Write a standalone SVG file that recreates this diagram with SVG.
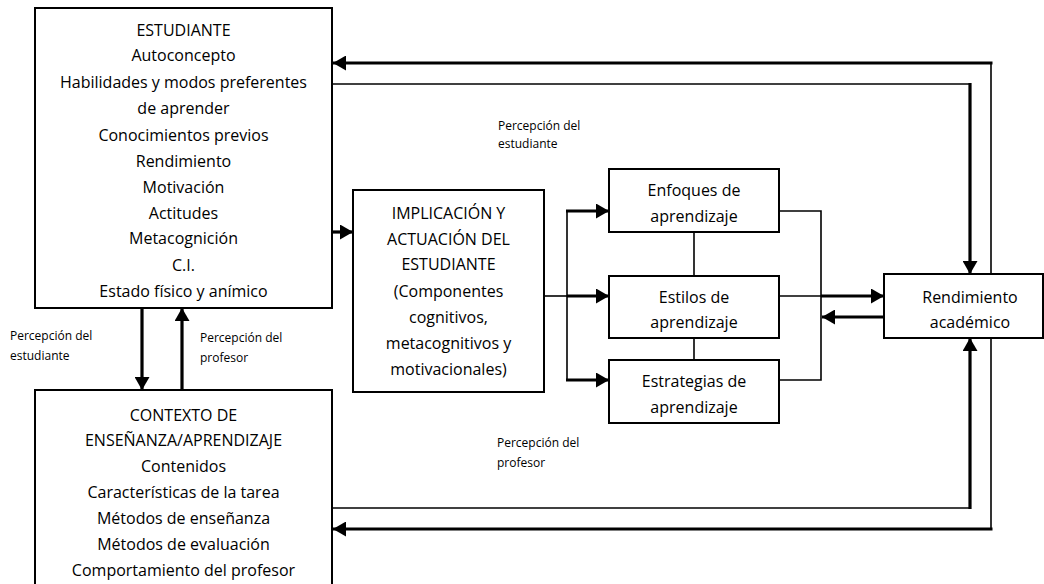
<svg xmlns="http://www.w3.org/2000/svg" width="1044" height="584" viewBox="0 0 1044 584">
<defs>
<marker id="ah" markerUnits="userSpaceOnUse" markerWidth="14" markerHeight="15" refX="13" refY="7.5" orient="auto">
<path d="M0,0 L13,7.5 L0,15 z" fill="#000"/>
</marker>
<style>
.box{fill:#fff;stroke:#000;stroke-width:2}
.t{font-family:"Open Sans","Noto Sans",sans-serif;font-size:16px;fill:#000;text-anchor:middle;dominant-baseline:central}
.s{font-family:"Open Sans","Noto Sans",sans-serif;font-size:12px;fill:#000;dominant-baseline:central}
.thin{fill:none;stroke:#000;stroke-width:1.6}
.thick{fill:none;stroke:#000;stroke-width:3.2}
.arr{marker-end:url(#ah)}
</style>
</defs>
<rect width="1044" height="584" fill="#fff"/>
<g id="connectors">
<line class="thin" x1="991" y1="274" x2="991" y2="63"/>
<line class="thick arr" x1="992.5" y1="63" x2="333" y2="63"/>
<line class="thin" x1="332" y1="84" x2="971" y2="84"/>
<line class="thick arr" x1="970" y1="83" x2="970" y2="274"/>
<line class="thin" x1="332" y1="508" x2="971" y2="508"/>
<line class="thick arr" x1="970" y1="509" x2="970" y2="338"/>
<line class="thin" x1="991" y1="338" x2="991" y2="529"/>
<line class="thick arr" x1="992.5" y1="529" x2="333" y2="529"/>
<line class="thick arr" x1="142" y1="308" x2="142" y2="390"/>
<line class="thick arr" x1="182" y1="390" x2="182" y2="308"/>
<line class="thick arr" x1="332" y1="232" x2="353" y2="232"/>
<line class="thin" x1="544" y1="296" x2="567" y2="296"/>
<line class="thin" x1="567" y1="211" x2="567" y2="380"/>
<line class="thick arr" x1="566" y1="211" x2="609" y2="211"/>
<line class="thick arr" x1="567" y1="296" x2="609" y2="296"/>
<line class="thick arr" x1="566" y1="380" x2="609" y2="380"/>
<line class="thin" x1="694" y1="232" x2="694" y2="276"/>
<line class="thin" x1="694" y1="338" x2="694" y2="360"/>
<polyline class="thin" points="779,211 821,211 821,380 779,380"/>
<line class="thin" x1="779" y1="296" x2="822" y2="296"/>
<line class="thick arr" x1="821" y1="296" x2="884" y2="296"/>
<line class="thick arr" x1="884" y1="317" x2="822" y2="317"/>
<text class="s" x="10" y="335">Percepción del</text>
<text class="s" x="10" y="355">estudiante</text>
<text class="s" x="200" y="337">Percepción del</text>
<text class="s" x="200" y="357">profesor</text>
<text class="s" x="498" y="125">Percepción del</text>
<text class="s" x="498" y="143">estudiante</text>
<text class="s" x="497" y="442">Percepción del</text>
<text class="s" x="497" y="462">profesor</text>
</g>
<g id="estudiante">
<rect class="box" x="35" y="8" width="297" height="300"/>
<text class="t" x="183.5" y="30">ESTUDIANTE</text>
<text class="t" x="183.5" y="55">Autoconcepto</text>
<text class="t" x="183.5" y="82">Habilidades y modos preferentes</text>
<text class="t" x="183.5" y="108">de aprender</text>
<text class="t" x="183.5" y="135">Conocimientos previos</text>
<text class="t" x="183.5" y="161">Rendimiento</text>
<text class="t" x="183.5" y="187">Motivación</text>
<text class="t" x="183.5" y="213">Actitudes</text>
<text class="t" x="183.5" y="238">Metacognición</text>
<text class="t" x="183.5" y="265">C.I.</text>
<text class="t" x="183.5" y="291">Estado físico y anímico</text>
</g>
<g id="contexto">
<rect class="box" x="35" y="390" width="297" height="220"/>
<text class="t" x="183.5" y="415">CONTEXTO DE</text>
<text class="t" x="183.5" y="440">ENSEÑANZA/APRENDIZAJE</text>
<text class="t" x="183.5" y="466">Contenidos</text>
<text class="t" x="183.5" y="492">Características de la tarea</text>
<text class="t" x="183.5" y="518">Métodos de enseñanza</text>
<text class="t" x="183.5" y="544">Métodos de evaluación</text>
<text class="t" x="183.5" y="570">Comportamiento del profesor</text>
</g>
<g id="implicacion">
<rect class="box" x="353" y="190" width="191" height="202"/>
<text class="t" x="448.5" y="213">IMPLICACIÓN Y</text>
<text class="t" x="448.5" y="239">ACTUACIÓN DEL</text>
<text class="t" x="448.5" y="264">ESTUDIANTE</text>
<text class="t" x="448.5" y="291">(Componentes</text>
<text class="t" x="448.5" y="317">cognitivos,</text>
<text class="t" x="448.5" y="343">metacognitivos y</text>
<text class="t" x="448.5" y="369">motivacionales)</text>
</g>
<g id="enfoques">
<rect class="box" x="609" y="169" width="170" height="63"/>
<text class="t" x="694" y="190">Enfoques de</text>
<text class="t" x="694" y="216">aprendizaje</text>
</g>
<g id="estilos">
<rect class="box" x="609" y="276" width="170" height="62"/>
<text class="t" x="694" y="297">Estilos de</text>
<text class="t" x="694" y="322">aprendizaje</text>
</g>
<g id="estrategias">
<rect class="box" x="609" y="360" width="170" height="63"/>
<text class="t" x="694" y="381">Estrategias de</text>
<text class="t" x="694" y="407">aprendizaje</text>
</g>
<g id="rendimiento">
<rect class="box" x="884" y="274" width="159" height="64"/>
<text class="t" x="970" y="297">Rendimiento</text>
<text class="t" x="970" y="322">académico</text>
</g>
</svg>
